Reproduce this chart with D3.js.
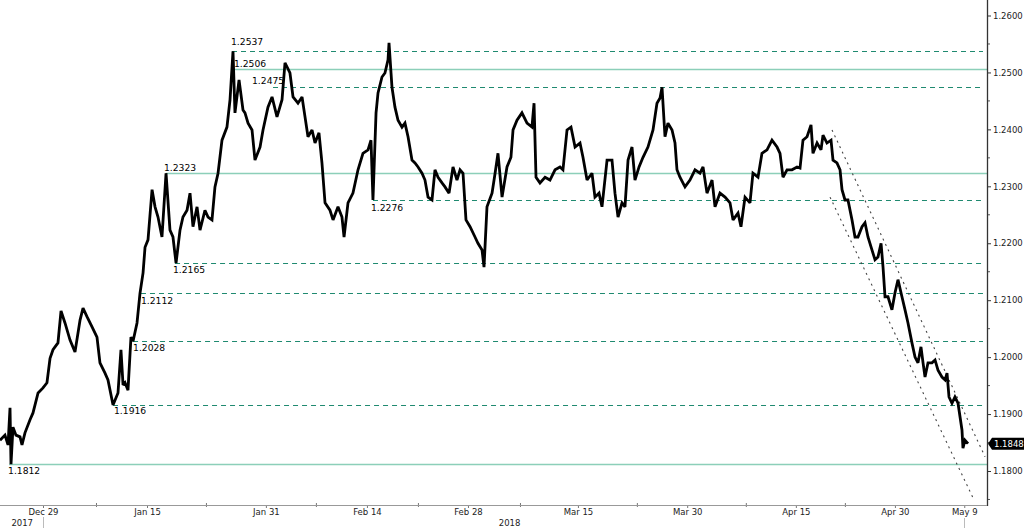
<!DOCTYPE html>
<html><head><meta charset="utf-8">
<script src="https://cdn.jsdelivr.net/npm/d3@7"></script>
<style>
html,body{margin:0;padding:0;background:#fff;}
svg{display:block;font-family:"DejaVu Sans",sans-serif;}
</style>
</head><body>
<svg id="c" width="1024" height="528"></svg>
<script>
// EUR/USD, price.
// Time unit: trading days, 0 = start of the Dec 29 2017 session.
const priceDecJan = [[-4.34,1.1854],[-3.84,1.1863],[-3.53,1.1846],[-3.33,1.1911],[-3.23,1.1812],[-3.03,1.1877],[-2.73,1.1863],[-2.32,1.1860],[-2.12,1.1846],[-1.82,1.1867],[-1.31,1.1890],[-1.01,1.1902],[-0.50,1.1937],[0,1.1946],[0.40,1.1955],[0.71,1.1998],[1.01,1.2013],[1.51,1.2025],[1.82,1.2081],[2.22,1.2060],[2.73,1.2030],[3.23,1.2009],[3.74,1.2065],[4.04,1.2086],[4.44,1.2071],[4.95,1.2053],[5.45,1.2035],[5.75,1.1990],[6.26,1.1972],[6.56,1.1960],[7.07,1.1916],[7.57,1.1937],[7.87,1.2013],[8.08,1.1951],[8.28,1.1955],[8.58,1.1942],[8.88,1.2035],[9.09,1.2028],[9.49,1.2060],[9.79,1.2112],[10.10,1.2148],[10.30,1.2193],[10.60,1.2206],[11.01,1.2294],[11.31,1.2264],[11.61,1.2246],[12.01,1.2211],[12.42,1.2323],[12.82,1.2223],[13.12,1.2211],[13.43,1.2165],[13.83,1.2223],[14.13,1.2246],[14.54,1.2258],[14.84,1.2288],[15.14,1.2229],[15.55,1.2264],[15.85,1.2223],[16.35,1.2258],[16.66,1.2246],[17.06,1.2241],[17.36,1.2299],[17.67,1.2323],[18.07,1.2381],[18.57,1.2404],[18.88,1.2452],[19.18,1.2537],[19.38,1.2429],[19.79,1.2487],[20.19,1.2434],[20.39,1.2429],[20.70,1.2411]];
const priceFeb = [[21.10,1.2399],[21.40,1.2346],[21.91,1.2369],[22.21,1.2399],[22.71,1.2439],[23.12,1.2457],[23.62,1.2422],[24.13,1.2452],[24.43,1.2517],[24.93,1.2499],[25.24,1.2457],[25.74,1.2446],[26.15,1.2457],[26.45,1.2422],[26.75,1.2387],[27.16,1.2399],[27.46,1.2376],[27.86,1.2394],[28.16,1.2341],[28.47,1.2271],[28.97,1.2258],[29.28,1.2241],[29.78,1.2264],[30.18,1.2246],[30.39,1.2211],[30.79,1.2271],[31.29,1.2288],[31.80,1.2329],[32.30,1.2358],[32.81,1.2364],[33.11,1.2381],[33.31,1.2276],[33.62,1.2429],[33.82,1.2464],[34.22,1.2492],[34.52,1.2499],[34.83,1.2522],[34.93,1.2552],[35.23,1.2474],[35.53,1.2439],[35.84,1.2416],[36.24,1.2404],[36.54,1.2411],[36.85,1.2387],[37.25,1.2346],[37.55,1.2341],[37.86,1.2334],[38.26,1.2323],[38.56,1.2311],[38.87,1.2281],[39.27,1.2276],[39.57,1.2329],[39.88,1.2316],[40.28,1.2306],[40.58,1.2299],[40.99,1.2288],[41.39,1.2334],[41.79,1.2311],[42.10,1.2329],[42.40,1.2323],[42.70,1.2241],[43.11,1.2229],[43.61,1.2211],[43.91,1.2200],[44.32,1.2188],[44.52,1.2158],[44.82,1.2264],[45.33,1.2288],[45.63,1.2322],[45.93,1.2358]];
const priceMar = [[46.34,1.2281],[46.84,1.2334],[47.24,1.2351],[47.45,1.2399],[47.85,1.2416],[48.35,1.2429],[48.86,1.2411],[49.36,1.2404],[49.57,1.2446],[49.77,1.2316],[50.17,1.2306],[50.68,1.2316],[51.18,1.2311],[51.69,1.2329],[52.19,1.2334],[52.49,1.2329],[52.90,1.2399],[53.30,1.2404],[53.71,1.2369],[54.21,1.2376],[54.51,1.2351],[54.92,1.2311],[55.42,1.2323],[55.72,1.2281],[56.13,1.2288],[56.43,1.2264],[56.94,1.2346],[57.44,1.2346],[57.74,1.2288],[58.05,1.2246],[58.45,1.2271],[58.75,1.2264],[59.06,1.2346],[59.46,1.2369],[59.76,1.2311],[60.17,1.2334],[60.57,1.2351],[61.07,1.2369],[61.58,1.2399],[61.98,1.2446],[62.29,1.2455],[62.49,1.2474],[62.79,1.2387],[63.09,1.2411],[63.50,1.2399],[63.80,1.2376],[64.00,1.2329],[64.30,1.2316],[64.81,1.2299],[65.31,1.2311],[65.82,1.2329],[66.32,1.2323],[66.63,1.2334],[67.03,1.2288],[67.54,1.2311],[67.84,1.2264],[68.34,1.2288],[68.85,1.2281],[69.35,1.2271],[69.66,1.2241],[70.16,1.2253],[70.46,1.2229],[70.87,1.2281],[71.37,1.2271]];
const priceAprMay = [[71.67,1.2323],[72.18,1.2316],[72.58,1.2358],[73.09,1.2364],[73.59,1.2381],[74.10,1.2369],[74.40,1.2358],[74.70,1.2316],[75.11,1.2329],[75.61,1.2329],[76.12,1.2334],[76.42,1.2332],[76.72,1.2381],[77.13,1.2387],[77.53,1.2408],[77.73,1.2358],[78.14,1.2376],[78.54,1.2364],[78.74,1.2390],[79.14,1.2376],[79.55,1.2381],[79.75,1.2346],[80.15,1.2341],[80.46,1.2329],[80.66,1.2294],[80.96,1.2276],[81.26,1.2276],[81.67,1.2241],[81.97,1.2211],[82.27,1.2211],[82.68,1.2229],[82.98,1.2236],[83.28,1.2211],[83.69,1.2188],[83.99,1.2171],[84.29,1.2176],[84.60,1.2200],[84.80,1.2158],[85.00,1.2106],[85.30,1.2106],[85.70,1.2083],[86.01,1.2113],[86.31,1.2136],[86.71,1.2106],[87.02,1.2083],[87.32,1.2060],[87.72,1.2025],[88.03,1.2000],[88.33,1.1990],[88.63,1.2018],[88.84,1.1990],[89.04,1.1965],[89.34,1.1990],[89.74,1.1990],[90.05,1.1995],[90.35,1.1977],[90.75,1.1965],[91.06,1.1960],[91.26,1.1972],[91.46,1.1930],[91.76,1.1919],[92.06,1.1930],[92.37,1.1919],[92.77,1.1872],[92.87,1.1840],[93.07,1.1854],[93.38,1.1848]];

// Horizontal levels
const levelValues   = [1.2537, 1.2506, 1.2475, 1.2323, 1.2276, 1.2165, 1.2112, 1.2028, 1.1916, 1.1812];
const levelKinds    = ["dashed","solid","dashed","solid","dashed","dashed","dashed","dashed","dashed","solid"];
const levelStartDay = [19.08, 19.28, 23.22, 12.42, 33.31, 13.33, 9.89, 9.09, 7.07, -3.43];
const levelLabelDay = [18.98, 19.28, 21.10, 12.21, 33.11, 13.12, 9.89, 9.09, 7.17, -3.53];

// Trend channel (day, price)
const channelUpper = [[79.65, 1.2399], [95.10, 1.1825]];
const channelLower = [[79.45, 1.2281], [93.99, 1.1749]];

// Axes
const xTickLabels = ["Dec 29","Jan 15","Jan 31","Feb 14","Feb 28","Mar 15","Mar 30","Apr 15","Apr 30","May 9"];
const xTickDays   = [0, 10.5, 22.5, 32.7, 42.9, 54, 65.03, 76, 86, 93];
const xMinorDays  = [5.4, 16.5, 27.6, 37.9, 48.2, 60, 71, 81];
const yearLabels  = ["2017", "2018"];
const yearDays    = [-2.1, 47.1];
const yTicks      = [1.18, 1.19, 1.20, 1.21, 1.22, 1.23, 1.24, 1.25, 1.26];
const yMinorTicks = [1.175, 1.185, 1.195, 1.205, 1.215, 1.225, 1.235, 1.245, 1.255];
const lastPrice = 1.1848;

// ---- layout / style ----
const W = 1024, H = 528;
const plotRight = 987, plotBottom = 505;
const labelDy = [-6, -2, -3, -2, 11, 9.5, 11, 10, 9.5, 10];
const solidColor = "#8ccfb9", dashColor = "#1f8a70";

const svg = d3.select("#c");
const x = d3.scaleLinear().domain([-43/9.906, (plotRight-43)/9.906]).range([0, plotRight]);
const y = d3.scaleLinear().domain([1.18, 1.26]).range([471, 15.5]);

svg.append("defs").append("clipPath").attr("id","plot")
  .append("rect").attr("x",0).attr("y",0).attr("width",plotRight).attr("height",plotBottom);

const plot = svg.append("g").attr("clip-path","url(#plot)");

// level lines
levelValues.forEach((v,i) => {
  const solid = levelKinds[i] === "solid";
  plot.append("line")
    .attr("x1", x(levelStartDay[i])).attr("x2", solid ? plotRight : plotRight-4)
    .attr("y1", Math.round(y(v))+0.5).attr("y2", Math.round(y(v))+0.5)
    .attr("stroke", solid ? solidColor : dashColor)
    .attr("stroke-width", solid ? 1.3 : 1.1)
    .attr("stroke-dasharray", solid ? null : "5,4");
});

// channel
[channelUpper, channelLower].forEach(c => {
  plot.append("line")
    .attr("x1", x(c[0][0])).attr("y1", y(c[0][1]))
    .attr("x2", x(c[1][0])).attr("y2", y(c[1][1]))
    .attr("stroke", "#444").attr("stroke-width", 1.1).attr("stroke-dasharray", "2,4");
});

// price line
const series = priceDecJan.concat(priceFeb, priceMar, priceAprMay);
plot.append("path").datum(series)
  .attr("fill","none").attr("stroke","#000").attr("stroke-width",2.8)
  .attr("stroke-linejoin","miter").attr("stroke-miterlimit",2.5)
  .attr("d", d3.line().x(d => x(d[0])).y(d => y(d[1])));

// level labels
levelValues.forEach((v,i) => {
  svg.append("text")
    .attr("x", x(levelLabelDay[i])).attr("y", y(v) + labelDy[i])
    .attr("font-size", 9.2).attr("fill", "#000")
    .text(v.toFixed(4));
});

// right axis
const yAxis = svg.append("g").attr("transform", `translate(${plotRight},0)`)
  .call(d3.axisRight(y).tickValues(yTicks).tickFormat(d3.format(".4f")).tickSize(4).tickPadding(2));
yAxis.select(".domain").remove();
yAxis.selectAll("text").attr("font-size", 8.5).attr("fill", "#222").attr("font-family","DejaVu Sans");
yAxis.selectAll("line").attr("stroke", "#333");
yAxis.selectAll(".minor").data(yMinorTicks).enter().append("line")
  .attr("x1", 0).attr("x2", 3).attr("y1", d => y(d)).attr("y2", d => y(d)).attr("stroke", "#555");
svg.append("line").attr("x1", plotRight+0.5).attr("x2", plotRight+0.5).attr("y1", 0).attr("y2", plotBottom+1)
  .attr("stroke", "#333").attr("stroke-width", 1.3);

// bottom axis
const xAxis = svg.append("g").attr("transform", `translate(0,${plotBottom})`)
  .call(d3.axisBottom(x).tickValues(xTickDays).tickFormat((d,i) => xTickLabels[i]).tickSize(3).tickPadding(1));
xAxis.select(".domain").remove();
xAxis.selectAll("text").attr("font-size", 8.5).attr("fill", "#222").attr("font-family","DejaVu Sans");
xAxis.selectAll("line").attr("stroke", "#777");
xAxis.selectAll(".minor").data(xMinorDays).enter().append("line")
  .attr("x1", d => x(d)).attr("x2", d => x(d)).attr("y1", -2).attr("y2", 2).attr("stroke", "#777");
svg.append("line").attr("x1", 0).attr("x2", plotRight).attr("y1", plotBottom+0.5).attr("y2", plotBottom+0.5)
  .attr("stroke", "#999").attr("stroke-width", 1);

// year labels and separators
yearLabels.forEach((t,i) => {
  svg.append("text").attr("x", x(yearDays[i])).attr("y", 526).attr("text-anchor","middle")
    .attr("font-size", 8.5).attr("fill", "#222").text(t);
});
svg.append("line").attr("x1", Math.round(x(0))+0.5).attr("x2", Math.round(x(0))+0.5)
  .attr("y1", 517).attr("y2", H).attr("stroke", "#bbb");
svg.append("line").attr("x1", Math.round(x(93))+0.5).attr("x2", Math.round(x(93))+0.5)
  .attr("y1", 518).attr("y2", H).attr("stroke", "#bbb");

// last price tag
const ly = y(lastPrice);
const tag = svg.append("g").attr("transform", `translate(${plotRight+1},${ly})`);
tag.append("path").attr("d", "M0,0 L4,-6 H36 V6 H4 Z").attr("fill", "#000");
tag.append("text").attr("x", 6).attr("y", 3).attr("font-size", 8.5).attr("fill", "#fff").text(lastPrice.toFixed(4));
</script>
</body></html>
